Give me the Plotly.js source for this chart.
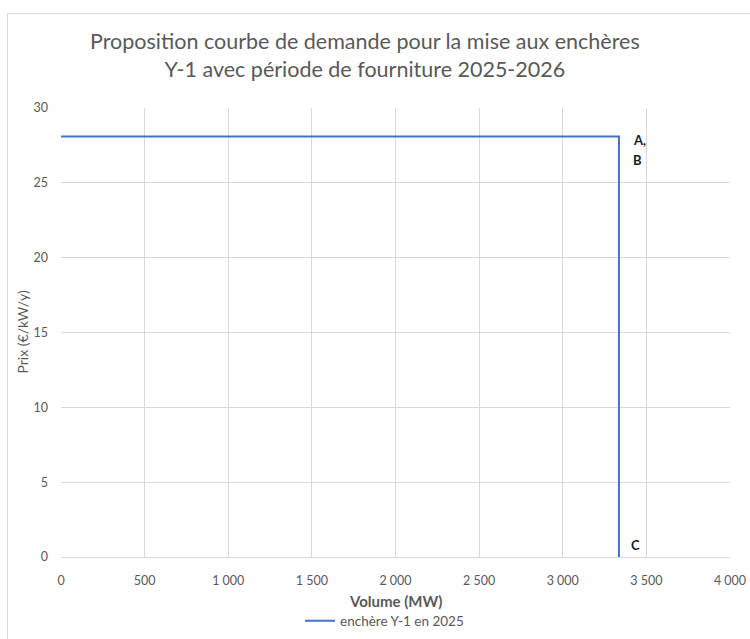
<!DOCTYPE html>
<html>
<head>
<meta charset="utf-8">
<script src="https://cdn.plot.ly/plotly-3.0.1.min.js"></script>
<style>
html,body{margin:0;padding:0;width:750px;height:639px;overflow:hidden;background:#fff;}
#chart{position:absolute;left:7px;top:13px;width:745px;height:630px;border:1px solid #d9d9d9;}
</style>
</head>
<body>
<div id="chart"></div>
<script>
// Data
const volume = [0, 3336, 3336];          // MW
const price = [28.1, 28.1, 0];           // €/kW/y
const seriesName = "enchère Y-1 en 2025";
const cornerLabels = ["A,", "B"];        // labels at the corner point
const footLabel = "C";                   // label at the foot of the curve
const xTitle = "Volume (MW)";
const yTitle = "Prix (€/kW/y)";
const xTicks = [0, 500, 1000, 1500, 2000, 2500, 3000, 3500, 4000];
const xTickText = ["0", "500", "1 000", "1 500", "2 000", "2 500", "3 000", "3 500", "4 000"];
const yTicks = [0, 5, 10, 15, 20, 25, 30];

const font = "Lato, 'Open Sans', sans-serif";
const gray = "#595959";

const trace = {
  x: volume, y: price, type: "scatter", mode: "lines",
  name: seriesName,
  line: {color: "#4472c4", width: 2},
  hoverinfo: "x+y"
};

const lblFont = {family: font, size: 13, color: "#1a1a1a"};
const annotations = [
  {x: volume[1], y: price[1], text: "<b>" + cornerLabels[0] + "</b>", showarrow: false,
   xanchor: "left", yanchor: "middle", xshift: 12, yshift: -4, font: lblFont},
  {x: volume[1], y: price[1], text: "<b>" + cornerLabels[1] + "</b>", showarrow: false,
   xanchor: "left", yanchor: "middle", xshift: 12, yshift: -24, font: lblFont},
  {x: volume[2], y: price[2], text: "<b>" + footLabel + "</b>", showarrow: false,
   xanchor: "left", yanchor: "middle", xshift: 10, yshift: 12, font: lblFont},
  // axis titles
  {xref: "paper", yref: "paper", x: 0.5, y: 0, text: "<b>" + xTitle + "</b>", showarrow: false,
   xanchor: "center", yanchor: "middle", yshift: -44, font: {family: font, size: 15, color: gray}},
  {xref: "paper", yref: "paper", x: 0, y: 0.5, text: yTitle, showarrow: false, textangle: -90,
   xanchor: "center", yanchor: "middle", xshift: -39, font: {family: font, size: 14, color: gray}}
];

const layout = {
  width: 745, height: 630,
  margin: {l: 53, r: 23, t: 94, b: 87},
  paper_bgcolor: "#fff", plot_bgcolor: "#fff",
  font: {family: font, color: gray, size: 12},
  title: {
    text: "Proposition courbe de demande pour la mise aux enchères<br>Y-1 avec période de fourniture 2025-2026",
    font: {family: font, size: 21.5, color: gray},
    x: 0.479, xref: "container", xanchor: "center",
    y: 0.945, yref: "container", yanchor: "top"
  },
  xaxis: {
    range: [0, 4000], tickvals: xTicks, ticktext: xTickText,
    showgrid: true, gridcolor: "#d9d9d9", gridwidth: 1,
    zeroline: false, showline: true, linecolor: "#d9d9d9", linewidth: 1,
    ticks: "", tickfont: {size: 12.5, color: gray}, ticklabelstandoff: 12,
    automargin: false,
    fixedrange: true
  },
  yaxis: {
    range: [0, 30], tickvals: yTicks,
    showgrid: true, gridcolor: "#d9d9d9", gridwidth: 1,
    zeroline: false, showline: false,
    ticks: "", tickfont: {size: 12.5, color: gray}, ticklabelstandoff: 12,
    automargin: false,
    fixedrange: true
  },
  showlegend: true,
  legend: {
    orientation: "h", x: 0.4836, xanchor: "center",
    yref: "container", y: 0.0365, yanchor: "middle",
    font: {size: 13.5, color: gray}, itemwidth: 30
  },
  annotations: annotations
};

Plotly.newPlot("chart", [trace], layout, {displayModeBar: false, staticPlot: true});
</script>
</body>
</html>
